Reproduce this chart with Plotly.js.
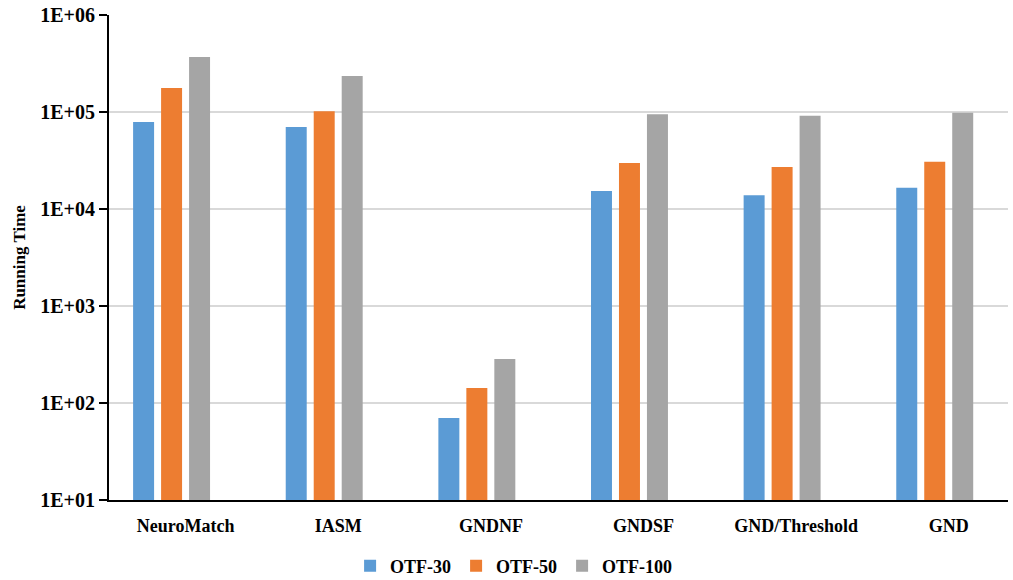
<!DOCTYPE html>
<html>
<head>
<meta charset="utf-8">
<script src="https://cdn.plot.ly/plotly-3.0.1.min.js"></script>
<style>html,body{margin:0;padding:0;background:#fff;}#chart{width:1013px;height:580px;}</style>
</head>
<body>
<div id="chart"></div>
<script>
const categories = ["NeuroMatch", "IASM", "GNDNF", "GNDSF", "GND/Threshold", "GND"];
const otf30 = [79000, 70000, 70, 15300, 13900, 16600];
const otf50 = [177000, 102000, 143, 29800, 27100, 30700];
const otf100 = [369000, 235000, 285, 95000, 91600, 98000];
const seriesNames = ["OTF-30", "OTF-50", "OTF-100"];
const tickVals = [10, 100, 1000, 10000, 100000, 1000000];
const tickText = ["1E+01", "1E+02", "1E+03", "1E+04", "1E+05", "1E+06"];
const colors = ["#5B9BD5", "#ED7D31", "#A5A5A5"];

const font = {family: "'Liberation Serif', 'Times New Roman', 'DejaVu Serif', serif", color: "#000"};
const data = [otf30, otf50, otf100].map((vals, i) => ({
  type: "bar",
  name: seriesNames[i],
  x: categories,
  y: vals,
  marker: {color: colors[i]},
  hoverinfo: "x+y"
}));

const xr0 = -0.41, xr1 = 5.48, labelShift = 0.092;

const layout = {
  width: 1013, height: 580,
  margin: {l: 109, r: 5, t: 15, b: 80, autoexpand: false},
  paper_bgcolor: "#fff", plot_bgcolor: "#fff",
  font: Object.assign({}, font, {size: 16}),
  barmode: "group",
  bargap: 0.45,
  bargroupgap: 0.25,
  showlegend: true,
  legend: {orientation: "h", x: 0.507, xref: "container", xanchor: "center", y: 0.024, yref: "container", yanchor: "middle",
           font: Object.assign({}, font, {size: 18, weight: "bold"}), itemwidth: 30, traceorder: "normal",
           tracegroupgap: 0},
  xaxis: {
    type: "category", range: [xr0, xr1],
    showline: true, linecolor: "#000", linewidth: 2,
    ticks: "", showgrid: false, automargin: false,
    showticklabels: false
  },
  xaxis2: {
    type: "linear", overlaying: "x", side: "bottom", anchor: "y",
    range: [xr0 - labelShift, xr1 - labelShift],
    tickvals: categories.map((c, i) => i), ticktext: categories,
    showline: false, showgrid: false, zeroline: false, ticks: "", automargin: false,
    tickfont: Object.assign({}, font, {size: 18, weight: "bold"}),
    ticklabelstandoff: 13
  },
  yaxis: {
    type: "log", range: [1, 6], automargin: false,
    tickvals: tickVals, ticktext: tickText,
    showline: true, linecolor: "#000", linewidth: 2,
    ticks: "outside", ticklen: 8, tickwidth: 2, tickcolor: "#000",
    showgrid: true, gridcolor: "#d9d9d9", gridwidth: 1.5,
    zeroline: false,
    tickfont: Object.assign({}, font, {size: 20, weight: "bold"}),
    title: {text: "Running Time", font: Object.assign({}, font, {size: 17, weight: "bold"}), standoff: 10}
  }
};

// invisible helper trace so the label axis is drawn
data.push({type: "scatter", x: categories.map((c, i) => i), y: otf30, xaxis: "x2", yaxis: "y",
           mode: "markers", marker: {opacity: 0}, showlegend: false, hoverinfo: "skip"});

Plotly.newPlot("chart", data, layout, {displayModeBar: false, staticPlot: true});
</script>
</body>
</html>
